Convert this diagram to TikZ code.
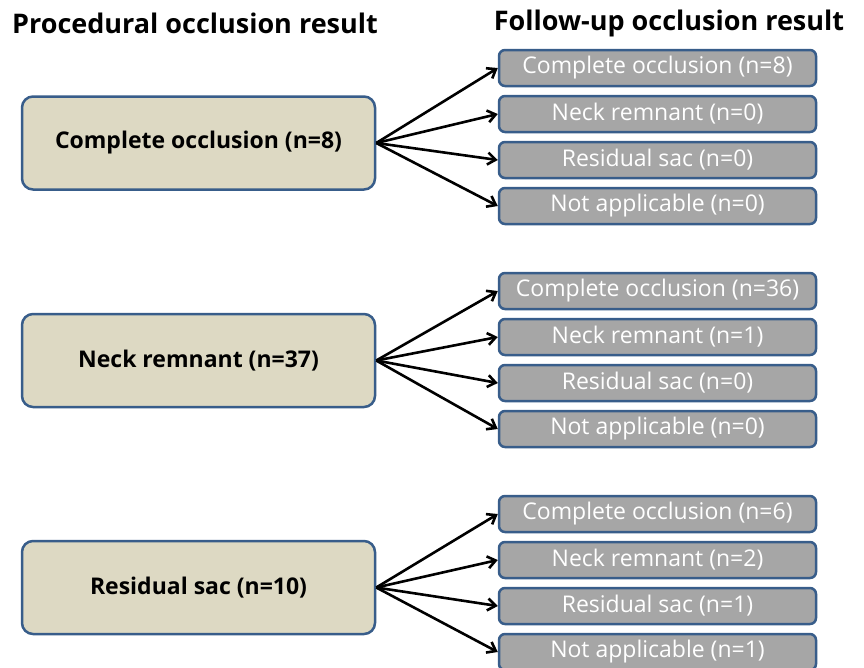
\documentclass[tikz,border=0pt]{standalone}
\usepackage{fontspec}
\setmainfont{Open Sans}
\usetikzlibrary{arrows.meta}
\definecolor{procfill}{RGB}{221,217,195}
\definecolor{boxline}{RGB}{56,93,138}
\definecolor{followfill}{RGB}{166,166,166}

\begin{document}
\begin{tikzpicture}[x=1pt,y=-1pt,>={Straight Barb[length=8pt,width=12pt]},
                    line width=2.6pt,
                    proc node/.style={rectangle,rounded corners=11pt,draw=boxline,fill=procfill,line width=2.5pt,
                                      minimum width=353pt,minimum height=93pt,font=\bfseries\fontsize{23}{27}\selectfont},
                    follow node/.style={rectangle,rounded corners=6pt,draw=boxline,fill=followfill,line width=2.5pt,
                                        minimum width=317pt,minimum height=36pt,text=white,font=\fontsize{23}{27}\selectfont},
                    title node/.style={font=\bfseries\fontsize{27}{31}\selectfont}]
  \useasboundingbox[fill=white] (0,0) rectangle (864,667);
  \node[title node] (t1) at (195,23) {Procedural occlusion result};
  \node[title node] (t2) at (669,23) {Follow-up occlusion result};

  \node[proc node] (1) at (198.5,143) {Complete occlusion (n=8)};
  \node[proc node] (2) at (198.5,360.5) {Neck remnant (n=37)};
  \node[proc node] (3) at (198.5,587.5) {Residual sac (n=10)};

  \node[follow node] (11) at (657.5,68) {Complete occlusion (n=8)};
  \node[follow node] (12) at (657.5,114) {Neck remnant (n=0)};
  \node[follow node] (13) at (657.5,160) {Residual sac (n=0)};
  \node[follow node] (14) at (657.5,206) {Not applicable (n=0)};

  \node[follow node] (21) at (657.5,291) {Complete occlusion (n=36)};
  \node[follow node] (22) at (657.5,337) {Neck remnant (n=1)};
  \node[follow node] (23) at (657.5,383) {Residual sac (n=0)};
  \node[follow node] (24) at (657.5,429) {Not applicable (n=0)};

  \node[follow node] (31) at (657.5,514) {Complete occlusion (n=6)};
  \node[follow node] (32) at (657.5,560) {Neck remnant (n=2)};
  \node[follow node] (33) at (657.5,606) {Residual sac (n=1)};
  \node[follow node] (34) at (657.5,652) {Not applicable (n=1)};

  \path[->]
    (1.east) edge (11.west)
             edge (12.west)
             edge (13.west)
             edge (14.west)
    (2.east) edge (21.west)
             edge (22.west)
             edge (23.west)
             edge (24.west)
    (3.east) edge (31.west)
             edge (32.west)
             edge (33.west)
             edge (34.west);
\end{tikzpicture}
\end{document}
